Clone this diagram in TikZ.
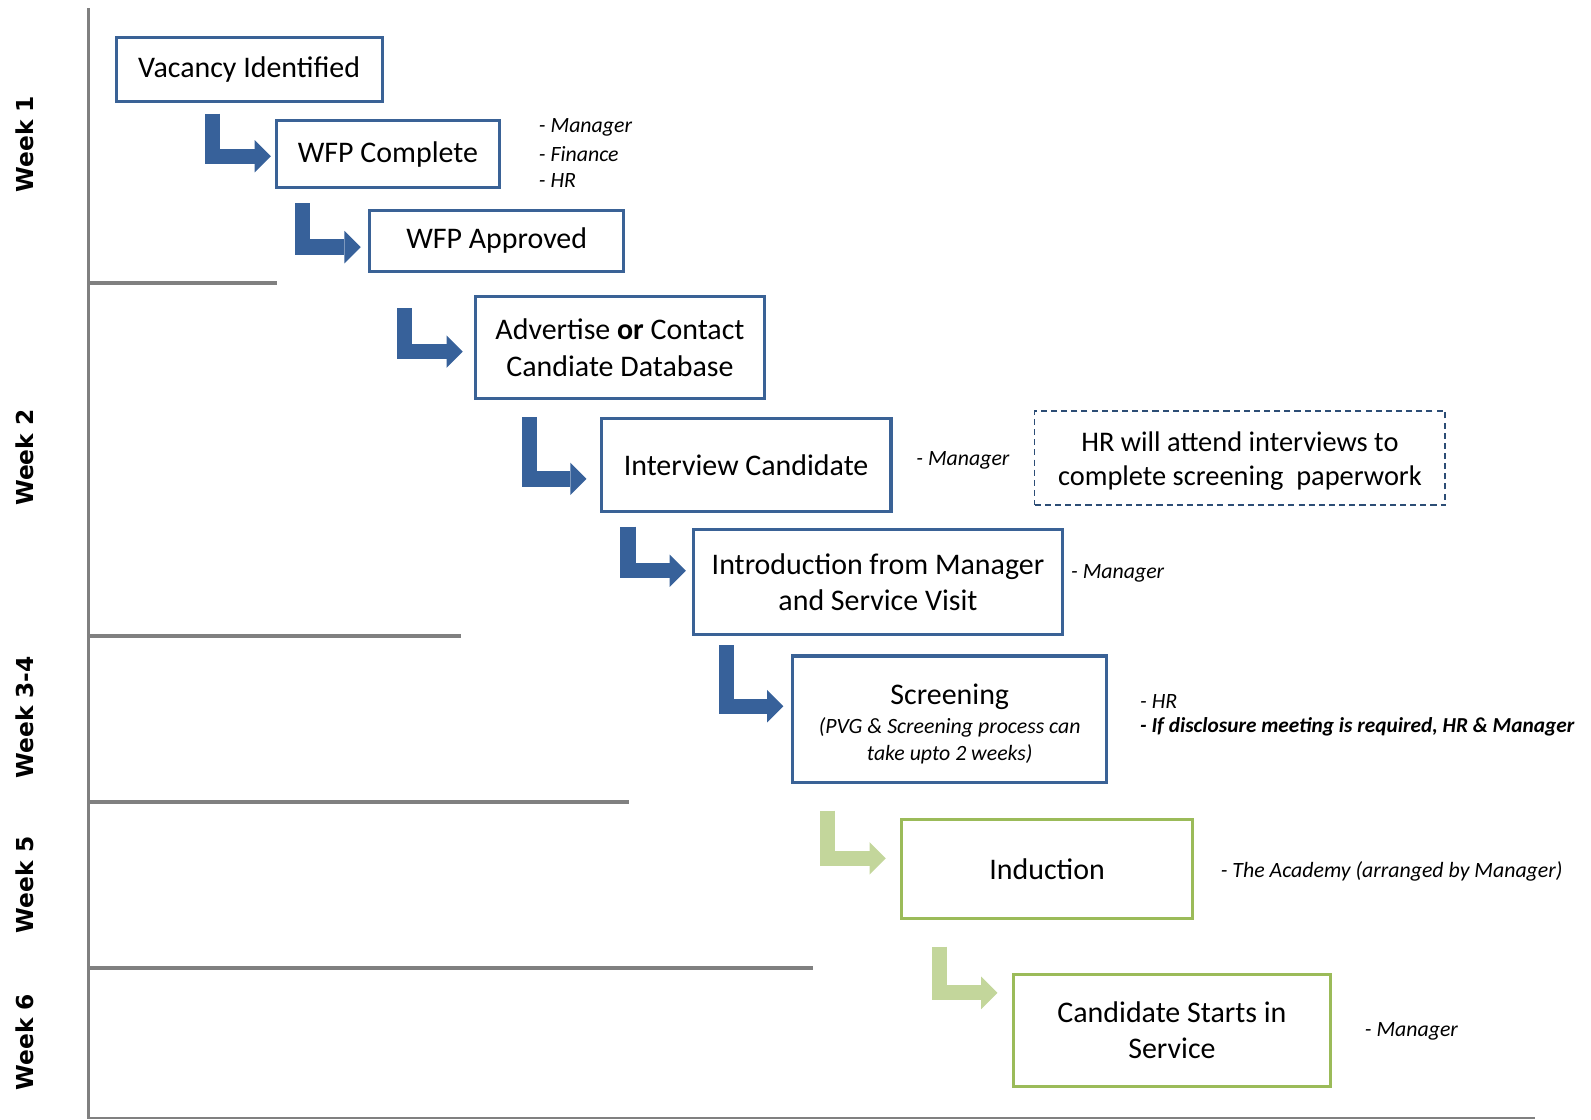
\documentclass[tikz,border=0pt]{standalone}
\usepackage{fontspec}
\setmainfont{Carlito}
\newfontfamily\weekfont{DejaVu Sans}
\usetikzlibrary{arrows.meta}
\definecolor{boxblue}{HTML}{3A6296}
\definecolor{arrowblue}{HTML}{37619A}
\definecolor{boxgreen}{HTML}{9BBB59}
\definecolor{arrowgreen}{HTML}{C3D69B}
\definecolor{dashblue}{HTML}{2C4D75}
\definecolor{gridgray}{HTML}{808080}
\tikzset{
  box/.style={draw=boxblue, line width=3pt, fill=white, inner sep=0pt, align=center,
    font=\fontsize{29.5}{36}\selectfont},
  gbox/.style={box, draw=boxgreen},
  dbox/.style={draw=dashblue, line width=1.5pt, dash pattern=on 6pt off 4pt, inner sep=0pt,
    align=center, font=\fontsize{28}{34}\selectfont},
  note/.style={anchor=west, inner sep=0pt, font=\fontsize{21.5}{25}\selectfont\itshape},
  week/.style={rotate=90, inner sep=0pt, font=\weekfont\bfseries\fontsize{23}{23}\selectfont},
  gridline/.style={draw=gridgray, line width=4pt},
  barrow/.style={draw=arrowblue, line width=15pt,
    -{Triangle[length=16pt, width=32pt, line width=0pt]}},
  garrow/.style={barrow, draw=arrowgreen}
}
\begin{document}
\begin{tikzpicture}[x=1pt, y=-1pt]
\useasboundingbox (0,0) rectangle (1568,1103);

% grid
\coordinate (axtop) at (87,8);
\coordinate (axbot) at (87,1103);
\draw[draw=gridgray, line width=3.5pt] (axtop) -- (axbot);
\draw[gridline] (87,279) -- (273,279);
\draw[gridline] (87,627) -- (454,627);
\draw[gridline] (87,790) -- (620,790);
\draw[gridline] (87,954) -- (801,954);
\draw[draw=gridgray, line width=2pt] (87,1102) -- (1513,1102);

% week labels
\node[week] (w1) at (24,142) {Week 1};
\node[week] (w2) at (24,451) {Week 2};
\node[week] (w3) at (24,707) {Week 3-4};
\node[week] (w5) at (24,872) {Week 5};
\node[week] (w6) at (24,1027) {Week 6};

% boxes
\node[box, minimum width=262pt, minimum height=64pt] (n1) at (245.5,68.5) {Vacancy Identified};
\node[box, minimum width=220pt, minimum height=66pt] (n2) at (382.3,151.8) {WFP Complete};
\node[box, minimum width=250pt, minimum height=60pt] (n3) at (489.5,237.5) {WFP Approved};
\node[box, minimum width=285.5pt, minimum height=100.5pt] (n4) at (611,342.5)
  {Advertise \textbf{or} Contact\\Candiate Database};
\node[box, minimum width=285.6pt, minimum height=92.3pt] (n5) at (735.3,458.3) {Interview Candidate};
\node[box, minimum width=363.6pt, minimum height=103pt] (n6) at (865.3,573.7)
  {Introduction from Manager\\and Service Visit};
\node[box, minimum width=309pt, minimum height=125pt] (n7) at (936,709)
  {{\fontsize{29.5}{31}\selectfont\rule{0pt}{29pt}Screening}\\[-7pt]
   {\fontsize{21.5}{26}\selectfont\itshape (PVG \& Screening process can}\\[-10pt]
   {\fontsize{21.5}{26}\selectfont\itshape take upto 2 weeks)}};
\node[gbox, minimum width=287pt, minimum height=98pt] (n8) at (1032,856.5) {Induction};
\node[gbox, minimum width=313pt, minimum height=110pt] (n9) at (1155,1015.5)
  {Candidate Starts in\\Service};
\node[dbox, minimum width=404.5pt, minimum height=93pt] (hr) at (1222,451.4)
  {\rule{0pt}{25pt}HR will attend interviews to\\complete screening\ \ paperwork};

% notes
\node[note] (t1) at (531,125.8) {- Manager};
\node[note] (t2) at (531,151.8) {- Finance};
\node[note] (t3) at (531,177.4) {- HR};
\node[note] (t4) at (903,453.3) {- Manager};
\node[note] (t5) at (1055.5,565) {- Manager};
\node[note] (t6) at (1123.5,691.5) {- HR};
\node[note, font=\fontsize{21}{25}\selectfont\itshape\bfseries] (t7) at (1123.5,716)
  {- If disclosure meeting is required, HR \& Manager};
\node[note] (t8) at (1203,859) {- The Academy (arranged by Manager)};
\node[note] (t9) at (1345,1016.7) {- Manager};

% bent arrows
\coordinate (a1) at (209.5,112);
\coordinate (a2) at (297.8,200.4);
\coordinate (a3) at (398.5,304);
\coordinate (a4) at (521.5,411);
\coordinate (a5) at (619,519);
\coordinate (a6) at (716,636);
\coordinate (a7) at (815.5,799);
\coordinate (a8) at (926,933);
\draw[barrow] (a1) |- ([xshift=-3.8pt, yshift=-2.2pt]n2.west);
\draw[barrow] (a2) |- ([xshift=-7.5pt, yshift=-6pt]n3.west);
\draw[barrow] (a3) |- ([xshift=-10.7pt, yshift=-4pt]n4.west);
\draw[barrow] (a4) |- ([xshift=-13pt, yshift=-13.7pt]n5.west);
\draw[barrow] (a5) |- ([xshift=-6pt, yshift=11.2pt]n6.west);
\draw[barrow] (a6) |- ([xshift=-8pt, yshift=13pt]n7.west);
\draw[garrow] (a7) |- ([xshift=-14pt, yshift=10.5pt]n8.west);
\draw[garrow] (a8) |- ([xshift=-14pt, yshift=37pt]n9.west);
\end{tikzpicture}
\end{document}
